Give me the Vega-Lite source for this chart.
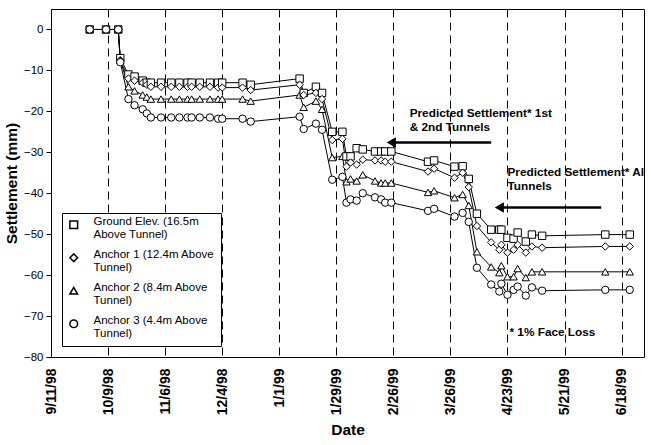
{
  "$schema": "https://vega.github.io/schema/vega-lite/v6.json",
  "width": 593,
  "height": 348,
  "padding": {"left": 4, "top": 9, "right": 6, "bottom": 0},
  "background": "white",
  "config": {
    "font": "Liberation Sans",
    "view": {"stroke": "black", "strokeWidth": 1},
    "axis": {
      "gridColor": "black", "gridDash": [8, 5], "gridWidth": 1, "gridOpacity": 1,
      "domain": false, "tickColor": "black", "labelColor": "black", "titleColor": "black",
      "titleFont": "Liberation Sans", "labelFont": "Liberation Sans"
    },
    "axisX": {
      "ticks": false, "labelAngle": -90, "labelFontWeight": "bold", "labelFontSize": 14,
      "labelPadding": 11, "titleFontSize": 15.5, "titleFontWeight": "bold", "titlePadding": 8
    },
    "axisY": {
      "tickSize": 5, "labelFontSize": 11.5, "labelPadding": 3, "titleFontSize": 15.5,
      "titleFontWeight": "bold", "titlePadding": 4
    }
  },
  "datasets": {
    "settle": [
      {"date": "1998/09/30", "GE": 0, "A1": 0, "A2": 0, "A3": 0},
      {"date": "1998/10/08", "GE": 0, "A1": 0, "A2": 0, "A3": 0},
      {"date": "1998/10/14", "GE": 0, "A1": 0, "A2": 0, "A3": 0},
      {"date": "1998/10/15", "GE": -7, "A1": -7.5, "A2": -7.5, "A3": -8},
      {"date": "1998/10/19", "GE": -11, "A1": -12, "A2": -14, "A3": -17},
      {"date": "1998/10/22", "GE": -11.5, "A1": -12.5, "A2": -15, "A3": -18.5},
      {"date": "1998/10/26", "GE": -12.5, "A1": -13, "A2": -16, "A3": -19.5},
      {"date": "1998/10/28", "GE": -13, "A1": -13.5, "A2": -16.5, "A3": -20.5},
      {"date": "1998/10/30", "GE": -13, "A1": -14, "A2": -17, "A3": -21.5},
      {"date": "1998/11/04", "GE": -13, "A1": -14, "A2": -17, "A3": -21.5},
      {"date": "1998/11/09", "GE": -13, "A1": -14, "A2": -17, "A3": -21.5},
      {"date": "1998/11/13", "GE": -13, "A1": -14, "A2": -17, "A3": -21.5},
      {"date": "1998/11/17", "GE": -13, "A1": -14, "A2": -17, "A3": -21.5},
      {"date": "1998/11/19", "GE": -13, "A1": -14, "A2": -17, "A3": -21.5},
      {"date": "1998/11/23", "GE": -13, "A1": -14, "A2": -17, "A3": -21.5},
      {"date": "1998/11/28", "GE": -13, "A1": -14, "A2": -17, "A3": -21.5},
      {"date": "1998/12/02", "GE": -13, "A1": -14.2, "A2": -17, "A3": -21.8},
      {"date": "1998/12/04", "GE": -13, "A1": -14.2, "A2": -17, "A3": -21.8},
      {"date": "1998/12/14", "GE": -13, "A1": -14.2, "A2": -17, "A3": -21.8},
      {"date": "1998/12/18", "GE": -13.5, "A1": -14.8, "A2": -17.5, "A3": -22.5},
      {"date": "1999/01/11", "GE": -12, "A1": -13.5, "A2": -16, "A3": -21.3},
      {"date": "1999/01/13", "GE": -15.5, "A1": -16, "A2": -19, "A3": -24.3},
      {"date": "1999/01/19", "GE": -14, "A1": -15.5, "A2": -17.5, "A3": -23},
      {"date": "1999/01/22", "GE": -15.5, "A1": -17, "A2": -19.5, "A3": -24.5},
      {"date": "1999/01/27", "GE": -25, "A1": -27, "A2": -31.3, "A3": -36.7},
      {"date": "1999/02/01", "GE": -25, "A1": -26.7, "A2": -31, "A3": -36},
      {"date": "1999/02/03", "GE": -31, "A1": -33.5, "A2": -37.2, "A3": -42.3},
      {"date": "1999/02/05", "GE": -31, "A1": -32.5, "A2": -36.5, "A3": -41.5},
      {"date": "1999/02/08", "GE": -29, "A1": -33, "A2": -37, "A3": -41.8},
      {"date": "1999/02/11", "GE": -29.3, "A1": -31.8, "A2": -35.5, "A3": -40},
      {"date": "1999/02/17", "GE": -29.8, "A1": -32, "A2": -37, "A3": -41},
      {"date": "1999/02/20", "GE": -29.8, "A1": -32, "A2": -37.5, "A3": -41.5},
      {"date": "1999/02/22", "GE": -29.8, "A1": -32.3, "A2": -37.5, "A3": -42.3},
      {"date": "1999/02/25", "GE": -29.8, "A1": -32.3, "A2": -37.5, "A3": -42.3},
      {"date": "1999/03/15", "GE": -32.3, "A1": -34.7, "A2": -39.8, "A3": -44.3},
      {"date": "1999/03/18", "GE": -32, "A1": -34, "A2": -39.4, "A3": -43.8},
      {"date": "1999/03/28", "GE": -33.5, "A1": -36.2, "A2": -41.1, "A3": -45.7},
      {"date": "1999/04/01", "GE": -33.4, "A1": -35, "A2": -40.3, "A3": -44.8},
      {"date": "1999/04/04", "GE": -36.5, "A1": -38.5, "A2": -43, "A3": -47},
      {"date": "1999/04/08", "GE": -45, "A1": -48, "A2": -54.3, "A3": -58.2},
      {"date": "1999/04/15", "GE": -48.9, "A1": -52, "A2": -58, "A3": -62.3},
      {"date": "1999/04/19", "GE": -48.9, "A1": -53.8, "A2": -59.4, "A3": -64},
      {"date": "1999/04/20", "GE": -48.9, "A1": -52.6, "A2": -57.7, "A3": -62.1},
      {"date": "1999/04/23", "GE": -50.9, "A1": -54.5, "A2": -60.4, "A3": -64.8},
      {"date": "1999/04/26", "GE": -51.1, "A1": -53.8, "A2": -60.4, "A3": -63.6},
      {"date": "1999/04/28", "GE": -49.6, "A1": -52.6, "A2": -58.4, "A3": -62.8},
      {"date": "1999/05/02", "GE": -51.8, "A1": -54.5, "A2": -60.6, "A3": -65},
      {"date": "1999/05/05", "GE": -50.1, "A1": -53, "A2": -59.2, "A3": -63},
      {"date": "1999/05/10", "GE": -50.4, "A1": -53.3, "A2": -59.2, "A3": -63.8},
      {"date": "1999/06/10", "GE": -50.1, "A1": -53, "A2": -59.2, "A3": -63.6},
      {"date": "1999/06/22", "GE": -50.1, "A1": -53, "A2": -59.2, "A3": -63.6}
    ],
    "notes": [
      {"date": "1999/03/06", "value": -21.5, "label": "Predicted Settlement* 1st\n& 2nd Tunnels"},
      {"date": "1999/04/23", "value": -35.9, "label": "Predicted Settlement* Al\nTunnels"},
      {"date": "1999/04/24", "value": -74.8, "label": "* 1% Face Loss"}
    ],
    "arrows": [
      {"start": "1999/02/25", "end": "1999/04/15", "value": -27.6},
      {"start": "1999/04/19", "end": "1999/06/08", "value": -43.5}
    ]
  },
  "layer": [
    {
      "mark": {"type": "rule", "color": "#555555", "strokeWidth": 1.5},
      "encoding": {"y": {"datum": 0, "type": "quantitative"}}
    },
    {
      "data": {"name": "settle"},
      "transform": [{"fold": ["GE", "A1", "A2", "A3"], "as": ["series", "value"]}],
      "encoding": {
        "x": {
          "field": "date", "type": "temporal", "title": "Date",
          "scale": {"domain": [{"year": 1998, "month": 9, "date": 11}, {"year": 1999, "month": 6, "date": 29}]},
          "axis": {
            "format": "%-m/%-d/%y",
            "values": [
              {"year": 1998, "month": 9, "date": 11}, {"year": 1998, "month": 10, "date": 9},
              {"year": 1998, "month": 11, "date": 6}, {"year": 1998, "month": 12, "date": 4},
              {"year": 1999, "month": 1, "date": 1}, {"year": 1999, "month": 1, "date": 29},
              {"year": 1999, "month": 2, "date": 26}, {"year": 1999, "month": 3, "date": 26},
              {"year": 1999, "month": 4, "date": 23}, {"year": 1999, "month": 5, "date": 21},
              {"year": 1999, "month": 6, "date": 18}
            ]
          }
        },
        "y": {
          "field": "value", "type": "quantitative", "title": "Settlement (mm)",
          "scale": {"domain": [-80, 5], "nice": false, "zero": false},
          "axis": {"values": [0, -10, -20, -30, -40, -50, -60, -70, -80]}
        }
      },
      "layer": [
        {
          "mark": {"type": "line", "color": "black", "strokeWidth": 1},
          "encoding": {"detail": {"field": "series", "type": "nominal"}}
        },
        {
          "mark": {"type": "point", "filled": true, "fill": "white", "stroke": "black", "strokeWidth": 1, "size": 55, "opacity": 1},
          "encoding": {
            "shape": {
              "field": "series", "type": "nominal",
              "scale": {"domain": ["GE", "A1", "A2", "A3"], "range": ["square", "diamond", "triangle-up", "circle"]},
              "legend": {
                "title": null, "orient": "none", "legendX": 11, "legendY": 204,
                "padding": 6, "strokeColor": "black", "fillColor": "white", "cornerRadius": 0,
                "labelFontSize": 11.5, "labelFont": "Liberation Sans", "labelColor": "black",
                "labelLimit": 300, "labelOffset": 14, "rowPadding": 7, "symbolSize": 60,
                "labelBaseline": "alphabetic",
                "labelExpr": "datum.value === 'GE' ? ['Ground Elev. (16.5m', 'Above Tunnel)'] : datum.value === 'A1' ? ['Anchor 1 (12.4m Above', 'Tunnel)'] : datum.value === 'A2' ? ['Anchor 2 (8.4m Above', 'Tunnel)'] : ['Anchor 3 (4.4m Above', 'Tunnel)']",
                "encode": {
                  "labels": {
                    "lineHeight": {"value": 13},
                    "dy": {"value": 2}
                  }
                }
              }
            }
          }
        }
      ]
    },
    {
      "data": {"name": "arrows"},
      "mark": {"type": "rule", "color": "black", "strokeWidth": 2.5},
      "encoding": {
        "x": {"field": "start", "type": "temporal", "title": "Date"},
        "x2": {"field": "end"},
        "y": {"field": "value", "type": "quantitative", "title": "Settlement (mm)"}
      }
    },
    {
      "data": {"name": "arrows"},
      "mark": {"type": "point", "shape": "triangle-left", "filled": true, "color": "black", "size": 110, "opacity": 1},
      "encoding": {
        "x": {"field": "start", "type": "temporal", "title": "Date"},
        "y": {"field": "value", "type": "quantitative", "title": "Settlement (mm)"}
      }
    },
    {
      "data": {"name": "notes"},
      "mark": {"type": "text", "align": "left", "baseline": "alphabetic", "fontSize": 11.8, "fontWeight": "bold", "font": "Liberation Sans", "lineBreak": "\n", "lineHeight": 14, "clip": true, "color": "black"},
      "encoding": {
        "x": {"field": "date", "type": "temporal", "title": "Date"},
        "y": {"field": "value", "type": "quantitative", "title": "Settlement (mm)"},
        "text": {"field": "label", "type": "nominal"}
      }
    }
  ]
}
